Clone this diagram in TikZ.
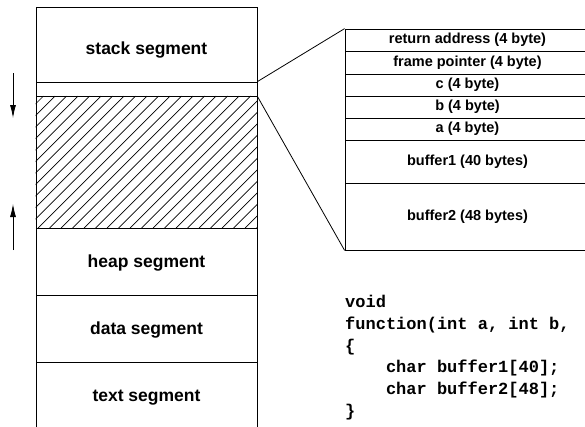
\documentclass[tikz,border=0pt]{standalone}
\usepackage{fontspec}
\setmainfont{Liberation Sans}
\setmonofont{Liberation Mono}
\usetikzlibrary{arrows.meta}

\tikzset{
  seg/.style = {draw, line width = 0.8pt, inner sep = 0pt, minimum width = 221pt,
                text depth = 0pt, font = \fontsize{17.5}{21}\selectfont\bfseries},
  slot/.style = {draw, line width = 0.8pt, inner sep = 0pt, minimum width = 245pt,
                 font = \fontsize{14.5}{17}\selectfont\bfseries},
}

\begin{document}
\begin{tikzpicture}[x = 1pt, y = -1pt, >={Latex[length = 13pt, width = 6pt]}]
\useasboundingbox (0,0) rectangle (585,426);
\clip (0,0) rectangle (585,426);

% memory layout
\node [seg, minimum height = 75pt, text height = 19pt] (stack) at (146.5, 44.5) {stack segment};
\node [seg, minimum height = 14pt] (frame) at (146.5, 89) {};
\node [seg, minimum height = 132pt] (free) at (146.5, 162) {};
\node [seg, minimum height = 67pt] (heap) at (146.5, 261.5) {heap segment};
\node [seg, minimum height = 67pt] (data) at (146.5, 328.5) {data segment};
\node [seg, minimum height = 68pt] (text) at (146.5, 396) {text segment};

% unused space
\begin{scope}
\clip (free.south west) rectangle (free.north east);
\foreach \k in {0,...,32}
	\draw [line width = 0.7pt] (-100 + 11.5*\k, 228) -- +(132, -132);
\end{scope}
\node [seg, minimum height = 132pt] at (free) {};

% growth directions
\coordinate (down top) at (13, 73);
\coordinate (down end) at (13, 118);
\coordinate (up top) at (13, 250);
\coordinate (up end) at (13, 204);
\draw [->, line width = 0.8pt] (down top) -- (down end);
\draw [->, line width = 0.8pt] (up top) -- (up end);

% stack frame
\node [slot, minimum height = 22pt] (ret) at (467.5, 40) {return address (4 byte)};
\node [slot, minimum height = 23pt] (fp) at (467.5, 62.5) {frame pointer (4 byte)};
\node [slot, minimum height = 22pt] (c) at (467.5, 85) {c (4 byte)};
\node [slot, minimum height = 22pt] (b) at (467.5, 107) {b (4 byte)};
\node [slot, minimum height = 22pt] (a) at (467.5, 129) {a (4 byte)};
\node [slot, minimum height = 43pt] (buf1) at (467.5, 161.5) {buffer1 (40 bytes)};
\node [slot, minimum height = 67pt] (buf2) at (467.5, 216.5) {buffer2 (48 bytes)};

\draw [line width = 0.8pt] (frame.north east) -- (ret.north west);
\draw [line width = 0.8pt] (frame.south east) -- (buf2.south west);

% the function
\node [anchor = north west, inner sep = 0pt, align = left,
       font = \fontsize{17}{21.8}\selectfont\ttfamily\bfseries] (code) at (345, 295)
	{void\\
	 function(int a, int b,\\
	 \{\\
	 \phantom{char}char buffer1[40];\\
	 \phantom{char}char buffer2[48];\\
	 \}};

\end{tikzpicture}
\end{document}
